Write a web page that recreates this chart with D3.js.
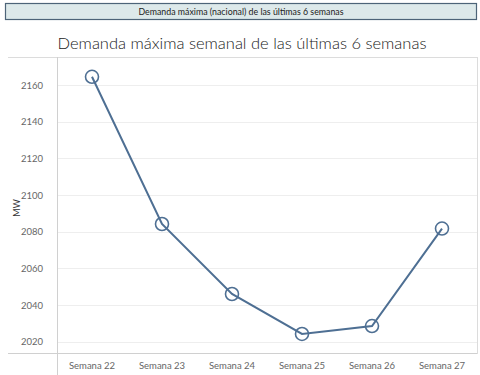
<!DOCTYPE html>
<html>
<head>
<meta charset="utf-8">
<script src="https://cdn.jsdelivr.net/npm/d3@7"></script>
<style>
  body { margin: 0; background: #fff; }
  text { font-family: "Lato", "Open Sans", sans-serif; }
</style>
</head>
<body>
<svg width="480" height="375"></svg>
<script>
// data
var weeks = ["Semana 22", "Semana 23", "Semana 24", "Semana 25", "Semana 26", "Semana 27"];
var demand = [2164.5, 2084.2, 2046, 2024.2, 2028.5, 2081.7];
var yTicks = [2020, 2040, 2060, 2080, 2100, 2120, 2140, 2160];

var svg = d3.select("svg");

var margins = { top: 57, bottom: 22, left: 57, right: 3 };
var width = 480 - margins.left - margins.right;
var height = 375 - margins.top - margins.bottom;

// banner on top
svg.append("rect")
  .attr("x", 5.5).attr("y", 3.5)
  .attr("width", 471).attr("height", 16)
  .attr("fill", "#dde9ea")
  .attr("stroke", "#4d6478")
  .attr("stroke-width", 1.2);
svg.append("text")
  .attr("x", 241).attr("y", 14.5)
  .attr("text-anchor", "middle")
  .attr("font-size", 8.8)
  .attr("fill", "#222")
  .text("Demanda máxima (nacional) de las últimas 6 semanas");

// title
svg.append("text")
  .attr("x", 242).attr("y", 49)
  .attr("text-anchor", "middle")
  .attr("font-size", 16.5)
  .attr("font-weight", 300)
  .attr("fill", "#222")
  .text("Demanda máxima semanal de las últimas 6 semanas");

var xScale = d3.scaleBand()
  .domain(weeks)
  .range([0, width]);
var yScale = d3.scaleLinear()
  .domain([2013.8, 2175.3])
  .range([height, 0]);

var plotLand = svg.append("g")
  .attr("transform", "translate(" + margins.left + "," + margins.top + ")");

// gridlines
plotLand.selectAll("line.grid")
  .data(yTicks)
  .enter()
  .append("line")
  .classed("grid", true)
  .attr("x1", 0).attr("x2", width)
  .attr("y1", function(d) { return Math.round(yScale(d)) + 0.5; })
  .attr("y2", function(d) { return Math.round(yScale(d)) + 0.5; })
  .attr("stroke", "#eeeeee");

// frame
svg.append("line").attr("x1", 8).attr("x2", 478).attr("y1", 57.5).attr("y2", 57.5).attr("stroke", "#dcdcdc");
svg.append("line").attr("x1", 8).attr("x2", 478).attr("y1", 353.5).attr("y2", 353.5).attr("stroke", "#d0d0d0");
svg.append("line").attr("x1", 57.5).attr("x2", 57.5).attr("y1", 57).attr("y2", 375).attr("stroke", "#d0d0d0");
svg.append("line").attr("x1", 477.5).attr("x2", 477.5).attr("y1", 57).attr("y2", 354).attr("stroke", "#dcdcdc");

// y axis
var yAxis = d3.axisLeft(yScale).tickValues(yTicks).tickSize(0).tickPadding(14).tickFormat(d3.format("d"));
var yG = plotLand.append("g").call(yAxis);
yG.select(".domain").remove();
yG.selectAll("text").attr("font-size", 9.5).attr("fill", "#666").style("font-family", "Lato, sans-serif");

// x axis
var xAxis = d3.axisBottom(xScale).tickSize(0).tickPadding(9);
var xG = plotLand.append("g")
  .attr("transform", "translate(0," + height + ")")
  .call(xAxis);
xG.select(".domain").remove();
xG.selectAll("text").attr("font-size", 9.5).attr("fill", "#666").style("font-family", "Lato, sans-serif");

// y label
svg.append("text")
  .attr("transform", "translate(20,208) rotate(-90)")
  .attr("text-anchor", "middle")
  .attr("font-size", 9)
  .attr("fill", "#333")
  .text("MW");

// line and markers
var line = d3.line()
  .x(function(d, i) { return xScale(weeks[i]) + xScale.bandwidth() / 2; })
  .y(function(d) { return yScale(d); });

plotLand.append("path")
  .datum(demand)
  .attr("d", line)
  .attr("fill", "none")
  .attr("stroke", "#4e6f93")
  .attr("stroke-width", 2);

plotLand.selectAll("circle")
  .data(demand)
  .enter()
  .append("circle")
  .attr("cx", function(d, i) { return xScale(weeks[i]) + xScale.bandwidth() / 2; })
  .attr("cy", function(d) { return yScale(d); })
  .attr("r", 6.5)
  .attr("fill", "none")
  .attr("stroke", "#4e6f93")
  .attr("stroke-width", 1.6);
</script>
</body>
</html>
